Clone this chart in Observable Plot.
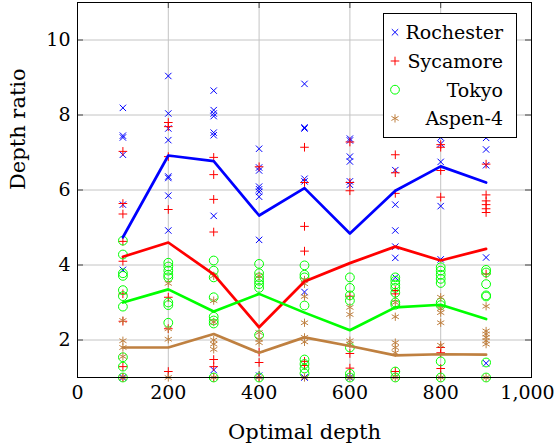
<!DOCTYPE html>
<html><head><meta charset="utf-8">
<script src="https://cdn.jsdelivr.net/npm/d3@7"></script>
<script src="https://cdn.jsdelivr.net/npm/@observablehq/plot@0.6"></script>
<style>body{margin:0;background:#fff} svg text{font-family:'DejaVu Serif',serif !important;}</style>
</head><body><div id="chart"></div>
<script>
const depths = [100, 200, 300, 400, 500, 600, 700, 800, 900];
const seriesNames = ["Rochester", "Sycamore", "Tokyo", "Aspen-4"];
const xTicks = [0, 200, 400, 600, 800, 1000];
const yTicks = [2, 4, 6, 8, 10];

const rochesterPoints = [
  [8.19, 7.45, 7.40, 6.94, 5.61, 3.87, 1.0],
  [9.04, 8.04, 7.64, 7.33, 6.36, 6.32, 5.85, 4.92],
  [8.65, 8.13, 8.04, 7.97, 7.53, 7.46, 5.31, 1.2],
  [7.1, 6.6, 6.52, 6.09, 6.02, 5.95, 5.82, 4.67, 1.05],
  [8.83, 7.67, 7.64, 6.3, 6.23, 3.28, 1.0],
  [7.37, 7.32, 6.89, 6.76, 6.23, 6.14, 1.0],
  [6.53, 5.61, 4.92, 4.49, 4.19, 3.67],
  [7.40, 7.23, 6.75, 5.57, 4.15],
  [7.39, 7.08, 6.66, 4.2, 1.38]
];
const sycamorePoints = [
  [7.03, 5.64, 5.36, 4.63, 4.10, 3.23, 2.5, 1.29, 1.0],
  [7.80, 7.69, 6.89, 5.48, 3.14, 2.3, 1.16],
  [6.87, 6.41, 5.75, 4.88, 1.48, 1.29, 1.0],
  [6.62, 1.68, 1.4, 1.0],
  [7.14, 6.2, 5.03, 4.37, 1.43, 1.32],
  [7.28, 6.2, 5.98, 3.17, 1.64, 1.25],
  [6.94, 6.46, 5.91, 3.32, 3.23, 1.16],
  [7.21, 7.14, 6.52, 5.81, 1.8, 1.66, 1.24],
  [6.69, 5.87, 5.71, 5.61, 5.5, 5.4, 3.76]
];
const tokyoPoints = [
  [4.65, 4.28, 3.78, 3.71, 3.33, 3.17, 2.89, 1.54, 1.29, 1.0],
  [4.06, 3.96, 3.85, 3.74, 3.67, 3.0, 2.93, 2.46],
  [4.12, 3.85, 3.67, 3.14, 2.62, 2.52, 2.44, 1.0],
  [4.03, 3.78, 3.67, 3.58, 3.49, 3.39, 2.13, 1.0],
  [3.99, 3.74, 3.67, 2.92, 1.48, 1.36, 1.24, 1.11],
  [3.67, 3.39, 3.19, 3.05, 1.8, 1.1, 1.0],
  [3.67, 3.58, 3.48, 3.39, 3.26, 3.0, 2.94, 1.16, 1.0],
  [3.94, 3.85, 3.74, 3.63, 3.52, 3.0, 2.93, 1.43, 1.0],
  [3.87, 3.8, 3.49, 3.19, 3.16, 1.4, 1.0]
];
const aspenPoints = [
  [2.52, 1.98, 1.80, 1.56, 1.0],
  [3.51, 2.3, 2.02, 1.0],
  [3.71, 3.05, 2.48, 2.0, 1.89, 1.75, 1.0],
  [3.71, 2.2, 2.02, 1.93, 1.0],
  [3.6, 3.5, 3.16, 2.46, 2.07, 1.95, 1.0],
  [2.87, 2.68, 1.98, 1.89, 1.0],
  [3.0, 2.62, 1.93, 1.8, 1.66, 1.0],
  [3.14, 2.84, 2.73, 2.46, 1.86, 1.0],
  [2.9, 2.24, 2.16, 2.07, 1.98, 1.89, 1.0]
];

const rochesterLine = [4.74, 6.92, 6.77, 5.32, 6.05, 4.84, 5.98, 6.63, 6.2];
const sycamoreLine  = [4.22, 4.60, 3.75, 2.34, 3.56, 4.05, 4.49, 4.12, 4.43];
const tokyoLine     = [3.0, 3.35, 2.76, 3.23, 2.73, 2.26, 2.87, 2.94, 2.56];
const aspenLine     = [1.80, 1.80, 2.16, 1.66, 2.07, 1.84, 1.59, 1.62, 1.61];

const styles = [
  {symbol: "times", r: 3.0, color: "#0000ff"},
  {symbol: "plus", r: 2.9, color: "#ff0000"},
  {symbol: "circle", r: 4.4, color: "#00ff00"},
  {symbol: "asterisk", r: 3.9, color: "#bf8040"}
];
const pointSets = [rochesterPoints, sycamorePoints, tokyoPoints, aspenPoints];
const lineSets = [rochesterLine, sycamoreLine, tokyoLine, aspenLine];

const flatPts = (cols) => cols.flatMap((vals, i) => vals.map(v => ({depth: depths[i], ratio: v})));
const linePts = (vals) => vals.map((v, i) => ({depth: depths[i], ratio: v}));

const W = 556, H = 448, mL = 77, mR = 25, mT = 2, mB = 71;
const plotW = W - mL - mR, plotH = H - mT - mB, tickLen = 6;
const serif = "'DejaVu Serif', serif";
const fmt = d3.format(",");

const chart = Plot.plot({
  width: W, height: H,
  marginLeft: mL, marginRight: mR, marginTop: mT, marginBottom: mB,
  style: "font-family: 'DejaVu Serif', serif; font-size: 19px; background: white; color: black; overflow: visible;",
  x: {domain: [0, 1000], ticks: xTicks, tickFormat: fmt},
  y: {domain: [1, 11], ticks: yTicks},
  marks: [
    Plot.gridX(xTicks, {x: d => d, stroke: "#c4c4c4", strokeOpacity: 1}),
    Plot.gridY(yTicks, {y: d => d, stroke: "#c4c4c4", strokeOpacity: 1}),
    Plot.tickX(xTicks, {x: d => d, insetTop: plotH - tickLen, stroke: "#444"}),
    Plot.tickX(xTicks, {x: d => d, insetBottom: plotH - tickLen, stroke: "#444"}),
    Plot.tickY(yTicks, {y: d => d, insetRight: plotW - tickLen, stroke: "#444"}),
    Plot.tickY(yTicks, {y: d => d, insetLeft: plotW - tickLen, stroke: "#444"}),
    ...pointSets.map((ps, k) => Plot.dot(flatPts(ps), {
      x: "depth", y: "ratio", symbol: styles[k].symbol, r: styles[k].r,
      stroke: styles[k].color, fill: "none", strokeWidth: 1
    })),
    ...lineSets.map((ls, k) => Plot.line(linePts(ls), {
      x: "depth", y: "ratio", stroke: styles[k].color, strokeWidth: 2.7
    })),
    Plot.frame({stroke: "black"}),
    Plot.axisX(xTicks.slice(0, -1), {tickSize: 0, tickPadding: 8, label: null, tickFormat: fmt, fontFamily: serif, fontSize: 19}),
    Plot.axisX(xTicks.slice(-1), {tickSize: 0, tickPadding: 8, label: null, tickFormat: fmt, fontFamily: serif, fontSize: 19, dx: -4}),
    Plot.axisY(yTicks, {tickSize: 0, tickPadding: 7, label: null, fontFamily: serif, fontSize: 19}),
    Plot.text(["Optimal depth"], {frameAnchor: "bottom", dy: 55, lineAnchor: "middle", fontSize: 21, fontFamily: serif, text: d => d}),
    Plot.text(["Depth ratio"], {frameAnchor: "left", dx: -59, rotate: -90, lineAnchor: "middle", fontSize: 21, fontFamily: serif, text: d => d})
  ]
});

const svg = d3.select(chart);
const lg = svg.append("g");
lg.append("rect").attr("x", 383.5).attr("y", 13.5).attr("width", 133).attr("height", 124)
  .attr("fill", "white").attr("stroke", "black");
const symMap = {times: d3.symbolTimes, plus: d3.symbolPlus, circle: d3.symbolCircle, asterisk: d3.symbolAsterisk};
seriesNames.forEach((name, i) => {
  const base = 39.3 + i * 28.7;
  const st = styles[i];
  lg.append("path")
    .attr("d", d3.symbol(symMap[st.symbol], Math.PI * st.r * st.r)())
    .attr("transform", `translate(395,${base - 7})`)
    .attr("fill", "none").attr("stroke", st.color).attr("stroke-width", 1);
  lg.append("text").attr("x", 503).attr("y", base).attr("text-anchor", "end")
    .attr("font-family", serif).attr("font-size", 19).attr("fill", "black").text(name);
});

document.getElementById("chart").appendChild(chart);
</script>
</body></html>
